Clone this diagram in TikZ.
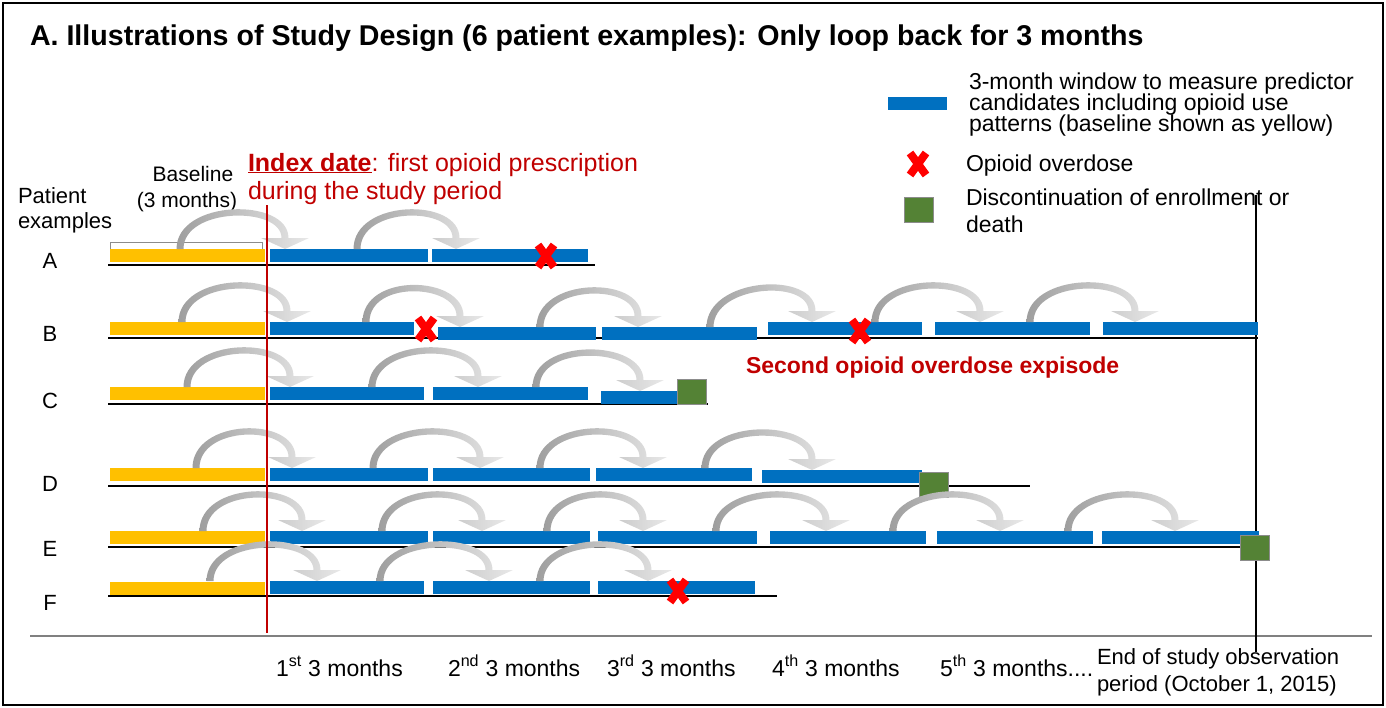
\documentclass[tikz,border=0pt]{standalone}
\usepackage{fontspec}
\setmainfont{Liberation Sans}
\usetikzlibrary{calc}

\definecolor{barblue}{HTML}{0070C0}
\definecolor{baryellow}{HTML}{FFC000}
\definecolor{stopgreen}{HTML}{548235}
\definecolor{indexred}{HTML}{C00000}
\definecolor{eventred}{HTML}{FF0000}

\newcommand\fsz[1]{\fontsize{#1}{#1}\selectfont}

% grey loop-back arrow: rises from (#1,#2), lands with its tip on (#3,#4)
\newcommand\backarc[4]{%
  \shade[left color=black!38, right color=black!9]
    (#1-3.5,#2) .. controls (#1-3.5,#2-50) and (#3+3.5,#4-52) .. (#3+3.5,#4-11)
    -- (#3+24,#4-11) -- (#3,#4) -- (#3-24,#4-11) -- (#3-3.5,#4-11)
    .. controls (#3-3.5,#4-43) and (#1+3.5,#2-42) .. (#1+3.5,#2) -- cycle;}

% 3-month window: name, left x, right x, top y
\newcommand\window[4]{\node[bluebar, minimum width={#3-#2}] (#1) at (#2,#4) {};}

\begin{document}
\begin{tikzpicture}[x=1pt, y=-1pt,
  bluebar/.style={fill=barblue, inner sep=0, outer sep=0, minimum height=13, anchor=north west},
  basebar/.style={fill=baryellow, inner sep=0, outer sep=0, minimum height=13, minimum width=155, anchor=north west},
  timeline/.style={black, line width=2},
  stopbox/.style={fill=stopgreen, draw=black!45, line width=0.8, inner sep=0, outer sep=0,
                  minimum width=29, minimum height=25, anchor=north west},
  lbl/.style={inner sep=0, outer sep=0, anchor=base west},
  clbl/.style={inner sep=0, outer sep=0, anchor=base},
  overdose/.pic={\draw[eventred, line width=8, line cap=butt] (-8,-11) -- (8,11) (-8,11) -- (8,-11);}
]
\useasboundingbox (0,0) rectangle (1386,707);
\draw[line width=2] (3,3) rectangle (1383,705);

% title
\node[lbl] (title) at (30,45) {\fsz{28.6}\bfseries A. Illustrations of Study Design (6 patient examples): Only loop back for 3 months};

% legend
\node[bluebar, minimum width=59] (legwin) at (888,97) {};
\node[lbl] (legw1) at (969,89) {\fsz{23}3-month window to measure predictor};
\node[lbl] (legw2) at (969,110) {\fsz{23}candidates including opioid use};
\node[lbl] (legw3) at (969,131) {\fsz{23}patterns (baseline shown as yellow)};
\pic (legx) at (918,164) {overdose};
\node[lbl] (legod) at (966,171) {\fsz{23}Opioid overdose};
\node[stopbox] (legstop) at (904,197) {};
\node[lbl] (legd1) at (966,205) {\fsz{23}Discontinuation of enrollment or};
\node[lbl] (legd2) at (966,232) {\fsz{23}death};

% left-hand labels
\node[lbl] (pat1) at (18,203) {\fsz{22}Patient};
\node[lbl] (pat2) at (18,228) {\fsz{22}examples};
\node[clbl] (base1) at (193,181) {\fsz{21}Baseline};
\node[clbl] (base2) at (187,207) {\fsz{21}(3 months)};
\node[lbl, text=indexred] (idx1) at (248,171) {\fsz{25}\textbf{\underline{Index date}}: first opioid prescription};
\node[lbl, text=indexred] (idx2) at (248,199) {\fsz{25}during the study period};
\draw[black!45, line width=1] (110,249) -- (110,242) -- (262,242) -- (262,249);

% axes and reference lines
\draw[black!50, line width=2.5] (30,636) -- (1372,636);
\draw[line width=1.8] (1256,195) -- (1256,652);

% time lines under each patient
\draw[timeline] (108,264.5) -- (595,264.5);
\draw[timeline] (108,337.5) -- (1258,337.5);
\draw[timeline] (108,403.5) -- (708,403.5);
\draw[timeline] (108,485.5) -- (1030,485.5);
\draw[timeline] (108,547) -- (1255,547);
\draw[timeline] (108,596) -- (777,596);

% patient A
\node[clbl] (pA) at (50,268) {\fsz{22}A};
\node[basebar] (A0) at (110,249) {};
\window{A1}{270}{428}{249}
\window{A2}{432}{588}{249}
\pic (xA) at (546,256) {overdose};

% patient B
\node[clbl] (pB) at (50,341) {\fsz{22}B};
\node[basebar] (B0) at (110,322) {};
\window{B1}{270}{414}{322}
\window{B2}{438}{596}{327}
\window{B3}{602}{757}{327}
\window{B4}{768}{922}{322}
\window{B5}{935}{1090}{322}
\window{B6}{1103}{1258}{322}
\pic (xB1) at (426,329) {overdose};
\pic (xB2) at (860,331) {overdose};
\node[lbl, text=indexred] (second) at (746,373) {\fsz{23}\bfseries Second opioid overdose expisode};

% patient C
\node[clbl] (pC) at (50,408) {\fsz{22}C};
\node[basebar] (C0) at (110,387) {};
\window{C1}{270}{424}{387}
\window{C2}{433}{588}{387}
\window{C3}{601}{680}{391}
\node[stopbox] (stopC) at (677,379) {};

% patient D
\node[clbl] (pD) at (50,491) {\fsz{22}D};
\node[basebar] (D0) at (110,468) {};
\window{D1}{270}{428}{468}
\window{D2}{433}{590}{468}
\window{D3}{596}{752}{468}
\window{D4}{762}{922}{470}
\node[stopbox] (stopD) at (919,472) {};

% patient E
\node[clbl] (pE) at (50,556) {\fsz{22}E};
\node[basebar] (E0) at (110,531) {};
\window{E1}{270}{428}{531}
\window{E2}{433}{590}{531}
\window{E3}{598}{757}{531}
\window{E4}{770}{926}{531}
\window{E5}{937}{1093}{531}
\window{E6}{1102}{1259}{531}
\node[stopbox] (stopE) at (1240,535) {};

% patient F
\node[clbl] (pF) at (50,610) {\fsz{22}F};
\node[basebar] (F0) at (110,582) {};
\window{F1}{270}{424}{581}
\window{F2}{433}{590}{581}
\window{F3}{598}{755}{581}
\pic (xF) at (678,591) {overdose};

% loop-back arrows
\backarc{180}{249}{285}{249}
\backarc{357}{249}{456}{249}
\backarc{182}{322}{287}{322}
\backarc{366}{322}{460}{327}
\backarc{540}{327}{638}{327}
\backarc{710}{327}{812}{322}
\backarc{875}{322}{980}{322}
\backarc{1030}{322}{1135}{322}
\backarc{187}{387}{290}{387}
\backarc{372}{387}{478}{387}
\backarc{536}{387}{640}{391}
\backarc{196}{468}{292}{468}
\backarc{373}{468}{480}{468}
\backarc{540}{468}{643}{468}
\backarc{705}{468}{812}{470}
\backarc{203}{531}{302}{531}
\backarc{382}{531}{482}{531}
\backarc{547}{531}{643}{531}
\backarc{716}{531}{826}{531}
\backarc{893}{531}{1000}{531}
\backarc{1068}{531}{1175}{531}
\backarc{210}{581}{317}{581}
\backarc{380}{581}{489}{581}
\backarc{540}{581}{648}{581}

% index date marker
\draw[indexred, line width=2.5] (267,205) -- (267,633);

% period labels
\node[lbl] (q1) at (276,676) {\fsz{23}1\textsuperscript{st} 3 months};
\node[lbl] (q2) at (448,676) {\fsz{23}2\textsuperscript{nd} 3 months};
\node[lbl] (q3) at (607,676) {\fsz{23}3\textsuperscript{rd} 3 months};
\node[lbl] (q4) at (772,676) {\fsz{23}4\textsuperscript{th} 3 months};
\node[lbl] (q5) at (940,676) {\fsz{23}5\textsuperscript{th} 3 months....};
\node[lbl] (end1) at (1097,664) {\fsz{22}End of study observation};
\node[lbl] (end2) at (1097,691) {\fsz{22}period (October 1, 2015)};
\end{tikzpicture}
\end{document}
